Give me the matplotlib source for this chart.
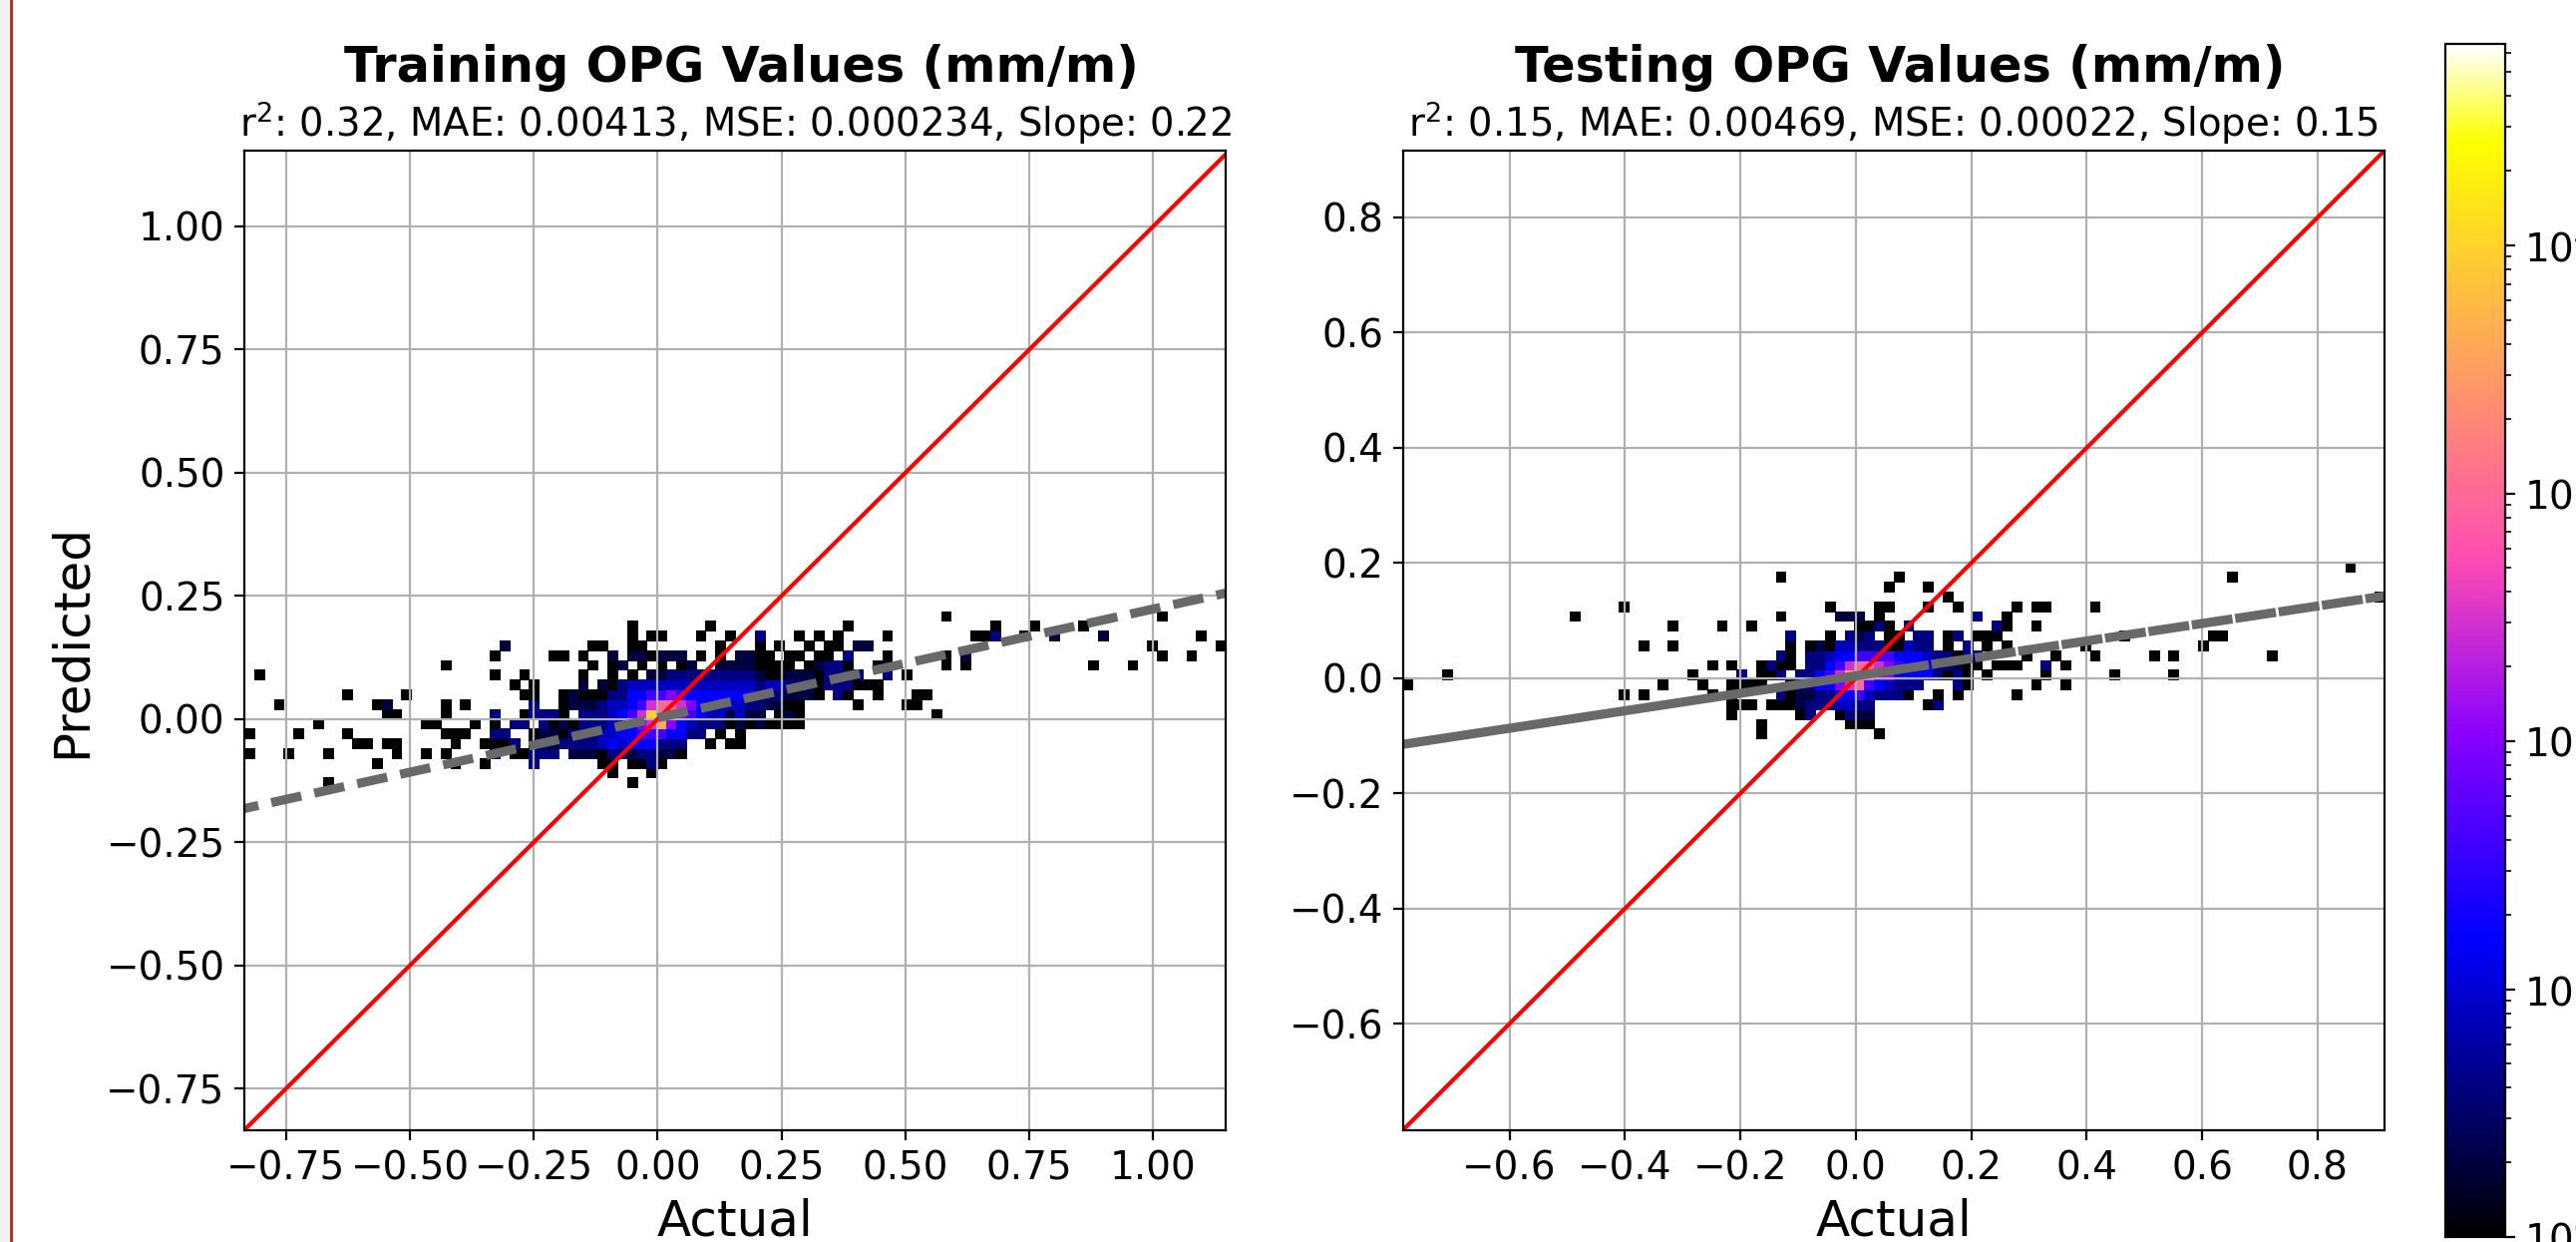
import numpy as np
import matplotlib
matplotlib.use('Agg')
import matplotlib.pyplot as plt
from matplotlib.colors import LogNorm
from matplotlib.lines import Line2D
from matplotlib.patches import Rectangle

# axis ranges and ticks
train_xlim = [-0.834, 1.146]
train_ylim = [-0.8345, 1.1535]
test_xlim = [-0.785, 0.916]
test_ylim = [-0.785, 0.916]
train_ticks = [-0.75, -0.5, -0.25, 0.0, 0.25, 0.5, 0.75, 1.0]
test_ticks = [-0.6, -0.4, -0.2, 0.0, 0.2, 0.4, 0.6, 0.8]
n_bins = 100

# count for each letter used in the bin tables below
level_counts = {'1': 1, '2': 2, '3': 4, '4': 8, '5': 16, '6': 40, '7': 100,
                '8': 300, '9': 1000, 'a': 4000, 'b': 10000}

# occupied bins: row -> (first column, levels) runs
train_bins = {
    52: [(71, '1'), (93, '1')],
    51: [(39, '1'), (47, '1'), (61, '1'), (76, '1'), (80, '1'), (85, '1')],
    50: [(39, '1'), (41, '11'), (46, '1'), (49, '1'), (52, '3'), (56, '1'), (58, '1'), (60, '1'),
         (65, '1'), (74, '11'), (76, '3'), (79, '1'), (82, '2'), (87, '2'), (97, '1')],
    49: [(26, '2'), (35, '11'), (39, '11'), (48, '1'), (52, '1'), (54, '1'), (57, '1'), (59, '11'),
         (62, '22'), (92, '1'), (99, '1')],
    48: [(25, '1'), (31, '11'), (34, '1'), (37, '2'), (39, '221'), (42, '222'), (46, '1'), (48, '1'),
         (50, '22'), (52, '11'), (55, '11'), (58, '11'), (61, '3'), (65, '1'), (71, '1'), (73, '2'),
         (93, '1'), (96, '1')],
    47: [(20, '1'), (35, '1'), (37, '12'), (40, '1'), (42, '1'), (44, '12'), (48, '22'), (50, '22'),
         (52, '111'), (55, '1'), (57, '12'), (59, '33'), (61, '1'), (64, '12'), (71, '1'), (73, '1'),
         (86, '1'), (90, '1')],
    46: [(1, '1'), (25, '1'), (28, '1'), (34, '1'), (37, '1'), (39, '1'), (41, '223333333'), (50, '33'),
         (52, '211'), (55, '222'), (58, '133'), (61, '33'), (65, '3'), (67, '1')],
    45: [(27, '1'), (29, '1'), (34, '2'), (36, '21344'), (41, '444444'), (47, '44444'), (52, '344'),
         (55, '333'), (58, '1333'), (62, '111')],
    44: [(10, '1'), (16, '1'), (28, '11'), (32, '12111'), (37, '33556676555555'), (51, '5'), (52, '333'),
         (55, '2221'), (60, '31'), (64, '1'), (68, '11')],
    43: [(3, '1'), (13, '12'), (20, '1'), (22, '1'), (29, '3'), (32, '1222344'), (39, '5689987'), (46, '54444'),
         (51, '332211'), (62, '1'), (67, '11')],
    42: [(14, '11'), (20, '1'), (25, '3'), (28, '13331'), (34, '33345'), (39, '68b98765'), (47, '4424'),
         (51, '22'), (54, '121'), (70, '1')],
    41: [(7, '1'), (18, '11'), (23, '1'), (25, '1'), (27, '33'), (30, '31213334'), (38, '457'), (41, '8a75'),
         (45, '4333121'), (52, '21111')],
    40: [(0, '1'), (5, '1'), (10, '1'), (20, '111'), (25, '33'), (29, '1221333'), (36, '4455666'),
         (43, '5533'), (48, '1'), (50, '1')],
    39: [(11, '11'), (14, '11'), (21, '1'), (24, '1113'), (29, '1223333'), (36, '45455'), (41, '5333'),
         (47, '1'), (49, '11')],
    38: [(0, '1'), (4, '1'), (8, '1'), (15, '1'), (18, '1'), (20, '1'), (25, '3'), (27, '11333'), (33, '222'),
         (36, '1332'), (40, '33221')],
    37: [(13, '1'), (21, '1'), (24, '1'), (29, '3'), (36, '11'), (39, '1131')],
    36: [(37, '1'), (41, '1')],
    35: [(8, '1'), (39, '1')],
}

test_bins = {
    57: [(96, '1')],
    56: [(38, '1'), (50, '1'), (84, '1')],
    55: [(49, '1'), (53, '1')],
    54: [(55, '1'), (99, '1')],
    53: [(22, '1'), (43, '1'), (48, '11'), (53, '1'), (56, '1'), (62, '1'), (64, '11'), (70, '1')],
    52: [(17, '1'), (38, '1'), (44, '222'), (48, '1'), (58, '3'), (61, '1')],
    51: [(27, '1'), (32, '1'), (35, '1'), (46, '11'), (48, '31'), (51, '3'), (60, '31'), (64, '1')],
    50: [(39, '3'), (43, '1'), (45, '3'), (46, '23'), (49, '11'), (52, '33'), (55, '13'), (58, '111'),
         (73, '1'), (82, '11')],
    49: [(24, '1'), (27, '1'), (39, '1'), (41, '12144333'), (49, '11'), (51, '433'), (55, '1'), (57, '3'),
         (59, '1'), (61, '1'), (69, '1'), (81, '1')],
    48: [(38, '31'), (41, '33455666655'), (52, '5433'), (56, '133'), (63, '1'), (66, '1'), (70, '1'),
         (76, '1'), (78, '1'), (88, '1')],
    47: [(31, '1'), (33, '1'), (36, '1311'), (41, '335689987655'), (53, '53321'), (58, '1'), (60, '111'),
         (65, '3'), (67, '1')],
    46: [(4, '1'), (29, '1'), (34, '3'), (36, '113'), (40, '33568a99775555'), (54, '3131'), (59, '1'),
         (65, '1'), (72, '1'), (78, '1')],
    45: [(0, '1'), (26, '1'), (30, '1'), (33, '1111'), (39, '133557896543'), (51, '33'), (56, '31'),
         (64, '1'), (67, '1')],
    44: [(22, '1'), (24, '1'), (31, '1'), (33, '1'), (38, '312233556433'), (50, '31'), (54, '1'),
         (56, '1'), (62, '1')],
    43: [(33, '111'), (37, '11123334433'), (53, '13')],
    42: [(33, '1'), (40, '13'), (44, '1322')],
    41: [(36, '1'), (45, '111')],
    40: [(36, '1'), (48, '1')],
}

# fitted lines and labels
train_fit_x = [-0.834, 1.146]
train_fit_y = [-0.1816, 0.2556]
test_solid_x = [-0.785, 0.056]
test_solid_y = [-0.115, 0.0125]
test_dash_x = [0.056, 0.916]
test_dash_y = [0.0125, 0.1428]
train_title = 'Training OPG Values (mm/m)'
test_title = 'Testing OPG Values (mm/m)'
train_stats = r'r$^2$: 0.32, MAE: 0.00413, MSE: 0.000234, Slope: 0.22'
test_stats = r'r$^2$: 0.15, MAE: 0.00469, MSE: 0.00022, Slope: 0.15'
count_max = 65000

W, H = 2583, 1245
DPI = 200


def counts_from_bins(bins):
    grid = np.zeros((n_bins, n_bins))
    for row, runs in bins.items():
        for col, levels in runs:
            for i, ch in enumerate(levels):
                grid[row, col + i] = level_counts[ch]
    return np.ma.masked_equal(grid, 0)


def px_axes(left, top, right, bottom):
    return fig.add_axes([left / W, 1 - bottom / H, (right - left) / W, (bottom - top) / H])


def draw_panel(ax, bins, xlim, ylim, ticks, title, stats):
    x_edges = np.linspace(xlim[0], xlim[1], n_bins + 1)
    y_edges = np.linspace(ylim[0], ylim[1], n_bins + 1)
    mesh = ax.pcolormesh(x_edges, y_edges, counts_from_bins(bins), cmap='gnuplot2',
                         norm=LogNorm(vmin=1, vmax=count_max), edgecolors='face', linewidth=0.3)
    ax.plot(ylim, ylim, color='red', lw=1.5)
    ax.set_xlim(xlim)
    ax.set_ylim(ylim)
    ax.set_xticks(ticks)
    ax.set_yticks(ticks)
    ax.tick_params(labelsize=14)
    ax.grid(True)
    ax.set_xlabel('Actual', fontsize=18, labelpad=3.7)
    ax.set_title(stats, fontsize=13.9, pad=5)
    ax.annotate(title, xy=(0.5, 1), xycoords='axes fraction', xytext=(2.4, 25),
                textcoords='offset points', ha='center', va='baseline',
                fontsize=17.8, fontweight='bold')
    return mesh


fig = plt.figure(figsize=(W / DPI, H / DPI), dpi=DPI)

# strip of the page next to the figure
fig.add_artist(Rectangle((0, 0), 9 / W, 1, transform=fig.transFigure, color='#f0f0f0', lw=0))
fig.add_artist(Line2D([11 / W, 11 / W], [0, 1], transform=fig.transFigure, color='#b81c1c', lw=1.0))

ax1 = px_axes(245, 151, 1229, 1133)
ax2 = px_axes(1406.5, 151, 2391, 1133)
mesh = draw_panel(ax1, train_bins, train_xlim, train_ylim, train_ticks, train_title, train_stats)
draw_panel(ax2, test_bins, test_xlim, test_ylim, test_ticks, test_title, test_stats)
ax1.set_ylabel('Predicted', fontsize=18)

ax1.plot(train_fit_x, train_fit_y, color='dimgray', lw=3.3, linestyle=(1.79, (3.36, 1.45)))
ax2.plot(test_solid_x, test_solid_y, '-', color='dimgray', lw=3.3)
ax2.plot(test_dash_x, test_dash_y, color='dimgray', lw=3.3, linestyle=(0, (4.5, 0.3)))
ax1.set_xlim(train_xlim)
ax2.set_xlim(test_xlim)

cax = px_axes(2452, 44, 2512, 1240)
cb = fig.colorbar(mesh, cax=cax)
cb.ax.tick_params(labelsize=14)

fig.savefig('out.png', dpi=DPI)
